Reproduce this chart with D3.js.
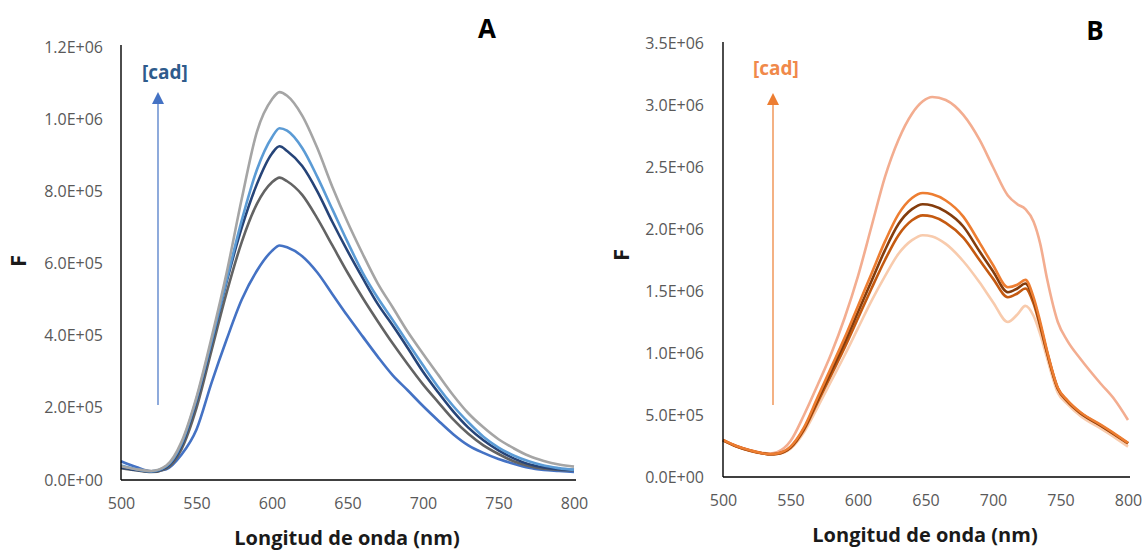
<!DOCTYPE html>
<html>
<head>
<meta charset="utf-8">
<script src="https://cdn.jsdelivr.net/npm/d3@7"></script>
<style>
  html, body { margin: 0; padding: 0; background: #fff; }
  svg { display: block; }
  .tick-label { font-family: "Open Sans", sans-serif; font-size: 16px; fill: #595959; }
  .axis-title { font-family: "Open Sans", sans-serif; font-size: 20px; font-weight: 700; fill: #1a1a1a; }
  .y-title { font-size: 22px; }
  .panel-tag { font-family: "Open Sans", sans-serif; font-size: 26px; font-weight: 700; fill: #000; }
  .cad { font-family: "Open Sans", sans-serif; font-size: 19px; font-weight: 700; }
</style>
</head>
<body>
<svg id="chart" width="1146" height="550"></svg>
<script>
// ---- Panel A: emission spectra (F vs wavelength) ----
const wavelengthsA = [500,510,520,530,540,550,560,570,580,590,600,605,610,620,630,640,650,660,670,680,690,700,710,720,730,740,750,760,770,780,790,800];

const seriesA1 = [52e3,36e3,24e3,30e3,70e3,140e3,270e3,390e3,500e3,580e3,635e3,650e3,645e3,620e3,575e3,515e3,455e3,398e3,342e3,290e3,248e3,205e3,165e3,127e3,96e3,75e3,58e3,45e3,34e3,28e3,25e3,22e3];
const seriesA2 = [33e3,27e3,22e3,32e3,85e3,200e3,360e3,520e3,660e3,765e3,825e3,838e3,828e3,790e3,725e3,650e3,575e3,505e3,440e3,378e3,320e3,265e3,216e3,168e3,128e3,96e3,72e3,52e3,39e3,31e3,28e3,27e3];
const seriesA3 = [35e3,28e3,24e3,36e3,95e3,220e3,380e3,550e3,700e3,820e3,905e3,925e3,912e3,870e3,800e3,715e3,635e3,560e3,488e3,428e3,365e3,300e3,243e3,190e3,145e3,110e3,82e3,60e3,44e3,35e3,30e3,28e3];
const seriesA4 = [40e3,30e3,24e3,38e3,100e3,225e3,385e3,555e3,720e3,860e3,950e3,975e3,968e3,920e3,840e3,750e3,660e3,575e3,505e3,443e3,380e3,318e3,258e3,205e3,160e3,120e3,90e3,68e3,52e3,40e3,33e3,28e3];
const seriesA5 = [38e3,30e3,25e3,40e3,105e3,230e3,395e3,575e3,780e3,965e3,1055e3,1075e3,1065e3,1010e3,920e3,812e3,715e3,627e3,545e3,478e3,410e3,350e3,292e3,235e3,185e3,146e3,113e3,88e3,67e3,53e3,43e3,37e3];

const colorsA = ["#4472C4", "#636363", "#264478", "#5B9BD5", "#A5A5A5"];
const yTicksA = [0, 2e5, 4e5, 6e5, 8e5, 1e6, 1.2e6];

// ---- Panel B ----
const wavelengthsB = [500,510,520,530,535,540,550,560,570,580,590,600,610,620,630,640,648,655,665,678,690,700,711,718,724,730,735,740,748,755,765,780,790,800];

const seriesB1 = [295e3,245e3,210e3,188e3,183e3,185e3,228e3,360e3,560e3,770e3,980e3,1.2e6,1.42e6,1.62e6,1.8e6,1.91e6,1.95e6,1.94e6,1.88e6,1.74e6,1.57e6,1.41e6,1.25e6,1.31e6,1.38e6,1.3e6,1.15e6,960e3,680e3,590e3,490e3,390e3,320e3,245e3];
const seriesB2 = [300e3,250e3,216e3,193e3,190e3,200e3,290e3,500e3,740e3,990e3,1.28e6,1.62e6,2.02e6,2.42e6,2.72e6,2.93e6,3.03e6,3.065e6,3.04e6,2.92e6,2.72e6,2.5e6,2.27e6,2.2e6,2.16e6,2.06e6,1.88e6,1.6e6,1.25e6,1.1e6,950e3,750e3,625e3,460e3];
const seriesB3 = [296e3,246e3,212e3,189e3,183e3,186e3,235e3,380e3,600e3,820e3,1.04e6,1.28e6,1.52e6,1.75e6,1.95e6,2.07e6,2.11e6,2.1e6,2.05e6,1.93e6,1.75e6,1.6e6,1.45e6,1.48e6,1.52e6,1.4e6,1.21e6,1.0e6,710e3,610e3,512e3,412e3,342e3,270e3];
const seriesB4 = [298e3,248e3,213e3,190e3,184e3,188e3,240e3,390e3,620e3,850e3,1.08e6,1.33e6,1.58e6,1.83e6,2.04e6,2.16e6,2.2e6,2.19e6,2.14e6,2.02e6,1.82e6,1.66e6,1.49e6,1.52e6,1.56e6,1.43e6,1.23e6,1.01e6,715e3,615e3,515e3,415e3,345e3,272e3];
const seriesB5 = [300e3,250e3,215e3,190e3,185e3,190e3,245e3,400e3,640e3,880e3,1.12e6,1.38e6,1.64e6,1.9e6,2.12e6,2.25e6,2.29e6,2.28e6,2.23e6,2.1e6,1.89e6,1.71e6,1.53e6,1.55e6,1.59e6,1.45e6,1.25e6,1.02e6,720e3,620e3,520e3,420e3,350e3,275e3];

const colorsB = ["#F8CBAD", "#F3AD90", "#C55A11", "#843C0C", "#ED7D31"];
const yTicksB = [0, 5e5, 1e6, 1.5e6, 2e6, 2.5e6, 3e6, 3.5e6];

const xTicks = [500, 550, 600, 650, 700, 750, 800];
const xTitle = "Longitud de onda (nm)";
const yTitle = "F";
const cadLabel = "[cad]";

const svg = d3.select("#chart");

// Excel-style scientific tick text, e.g. 1.2E+06
function sci(v) {
  if (v === 0) return "0.0E+00";
  const e = Math.floor(Math.log10(v));
  const m = v / Math.pow(10, e);
  return m.toFixed(1) + "E+" + String(e).padStart(2, "0");
}

function drawPanel(cfg) {
  const x = d3.scaleLinear().domain([500, 800]).range([cfg.x0, cfg.x1]);
  const y = d3.scaleLinear().domain([0, cfg.yMax]).range([cfg.y0, cfg.y1]);
  const g = svg.append("g");

  // axes
  const yAxis = d3.axisLeft(y).tickValues(cfg.yTicks).tickFormat(sci).tickSize(0).tickPadding(cfg.x0 - cfg.yLabelRight);
  const gy = g.append("g").attr("transform", `translate(${cfg.x0},0)`).call(yAxis);
  gy.select(".domain").remove();
  gy.selectAll("text").attr("class", "tick-label").attr("fill", null).attr("font-family", null).attr("font-size", null);

  const xAxis = d3.axisBottom(x).tickValues(xTicks).tickFormat(d3.format("d")).tickSize(0).tickPadding(18);
  const gx = g.append("g").attr("transform", `translate(0,${cfg.y0})`).call(xAxis);
  gx.select(".domain").remove();
  gx.selectAll("text").attr("class", "tick-label").attr("fill", null).attr("font-family", null).attr("font-size", null);

  // spectra
  const line = d3.line()
    .x((d, i) => x(cfg.wl[i]))
    .y(d => y(d))
    .curve(d3.curveMonotoneX);
  g.append("g").selectAll("path")
    .data(cfg.series)
    .join("path")
    .attr("d", d => line(d))
    .attr("fill", "none")
    .attr("stroke", (d, i) => cfg.colors[i])
    .attr("stroke-width", 2.6)
    .attr("stroke-linejoin", "round");

  // axis lines
  g.append("line").attr("x1", cfg.x0).attr("x2", cfg.x0).attr("y1", cfg.y0).attr("y2", cfg.axisTop)
    .attr("stroke", "#000").attr("stroke-width", 1.4);
  g.append("line").attr("x1", cfg.x0).attr("x2", cfg.x1 + 2).attr("y1", cfg.y0).attr("y2", cfg.y0)
    .attr("stroke", "#000").attr("stroke-width", 1.4);

  // axis titles
  g.append("text").attr("class", "axis-title").attr("text-anchor", "middle")
    .attr("x", cfg.xTitleX).attr("y", cfg.xTitleY).text(xTitle);
  g.append("text").attr("class", "axis-title y-title").attr("text-anchor", "middle")
    .attr("transform", `translate(${cfg.fX},${cfg.fY}) rotate(-90)`).attr("dy", "0.35em").text(yTitle);

  // panel tag
  g.append("text").attr("class", "panel-tag").attr("text-anchor", "middle")
    .attr("x", cfg.tagX).attr("y", cfg.tagY).text(cfg.tag);

  // concentration arrow
  const ax = cfg.arrowX;
  g.append("line").attr("x1", ax).attr("x2", ax).attr("y1", cfg.arrowBottom).attr("y2", cfg.arrowTip + 10)
    .attr("stroke", cfg.arrowColor).attr("stroke-width", 1.2);
  g.append("path")
    .attr("d", `M${ax},${cfg.arrowTip} L${ax - 6},${cfg.arrowTip + 12} L${ax + 6},${cfg.arrowTip + 12} Z`)
    .attr("fill", cfg.arrowColor);
  g.append("text").attr("class", "cad").attr("text-anchor", "middle")
    .attr("x", cfg.cadX).attr("y", cfg.cadY).attr("fill", cfg.cadColor).text(cadLabel);
}

drawPanel({
  x0: 121, x1: 574, y0: 480, y1: 47, axisTop: 45, yMax: 1.2e6, yTicks: yTicksA, yLabelRight: 103,
  wl: wavelengthsA, series: [seriesA1, seriesA2, seriesA3, seriesA4, seriesA5], colors: colorsA,
  xTitleX: 347, xTitleY: 545, fX: 18, fY: 261,
  tag: "A", tagX: 487, tagY: 38,
  arrowX: 158, arrowBottom: 405, arrowTip: 92, arrowColor: "#4472C4",
  cadX: 165, cadY: 79, cadColor: "#2E5B8C"
});

drawPanel({
  x0: 723, x1: 1128, y0: 477, y1: 43, axisTop: 42, yMax: 3.5e6, yTicks: yTicksB, yLabelRight: 704,
  wl: wavelengthsB, series: [seriesB1, seriesB2, seriesB3, seriesB4, seriesB5], colors: colorsB,
  xTitleX: 925, xTitleY: 542, fX: 621, fY: 255,
  tag: "B", tagX: 1095, tagY: 40,
  arrowX: 773, arrowBottom: 405, arrowTip: 93, arrowColor: "#ED7D31",
  cadX: 776, cadY: 75, cadColor: "#F0894A"
});
</script>
</body>
</html>
